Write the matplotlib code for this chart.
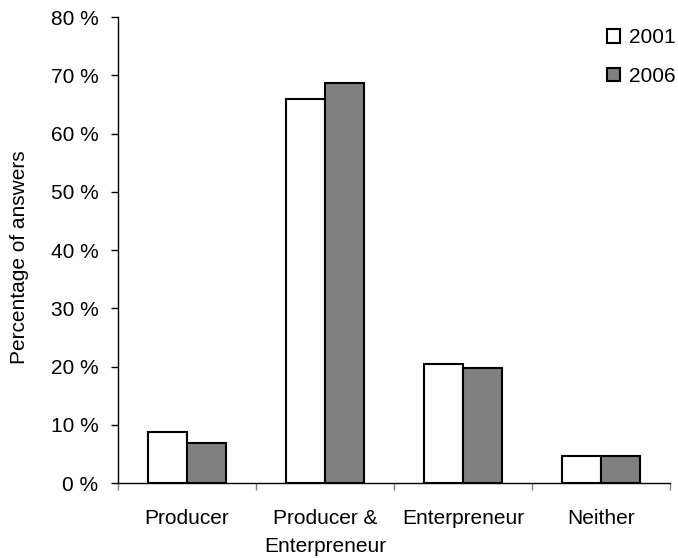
import matplotlib.pyplot as plt
import numpy as np

plt.rcParams['font.family'] = ['Liberation Sans', 'DejaVu Sans']

categories = ['Producer', 'Producer &\nEnterpreneur', 'Enterpreneur', 'Neither']
years = ['2001', '2006']
share_2001 = [8.8, 66.0, 20.4, 4.7]
share_2006 = [6.8, 68.7, 19.8, 4.7]

fs = 15

fig = plt.figure(figsize=(6.78, 5.58), dpi=100)
ax = fig.add_axes([0.174, 0.1344, 0.814, 0.835])

x = np.arange(len(categories))
w = 0.28
ax.bar(x - w / 2, share_2001, width=w, color='white', edgecolor='black', linewidth=1.5, label=years[0])
ax.bar(x + w / 2, share_2006, width=w, color='#808080', edgecolor='black', linewidth=1.5, label=years[1])

ax.set_xlim(-0.5, len(categories) - 0.5)
ax.set_ylim(0, 80)
ax.set_yticks(np.arange(0, 81, 10))
ax.set_yticklabels(['%d %%' % v for v in range(0, 81, 10)], fontsize=fs)
ax.set_xticks(np.arange(-0.5, len(categories)))
ax.set_xticklabels([])
ax.set_xticks(x, minor=True)
ax.set_xticklabels(categories, minor=True, fontsize=fs, linespacing=1.55)
ax.tick_params(axis='x', which='minor', length=0, pad=19)
ax.tick_params(axis='x', which='major', length=5, width=1, color='#808080')
ax.tick_params(axis='y', length=5, width=1, pad=9)

for side in ['top', 'right']:
    ax.spines[side].set_visible(False)
ax.spines['left'].set_linewidth(1)
ax.spines['bottom'].set_linewidth(1)

ax.set_ylabel('Percentage of answers', fontsize=fs, va='center')
ax.yaxis.set_label_coords(-0.178, 0.485)

ax.legend(loc='upper right', bbox_to_anchor=(1.045, 1.016), frameon=False, fontsize=fs,
          handlelength=0.6, handleheight=0.6, handletextpad=0.45, labelspacing=0.95)

fig.savefig('out.png', dpi=100)
